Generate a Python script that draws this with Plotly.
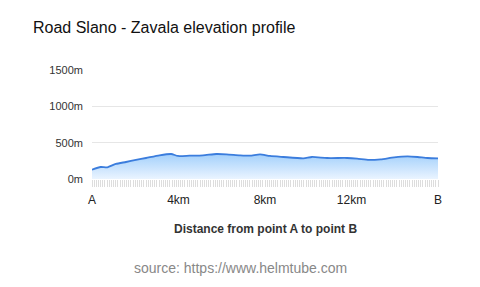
import plotly.graph_objects as go

distance_km = [0.0, 0.40, 0.71, 1.10, 1.57, 2.03, 2.50, 3.12, 3.66, 3.97, 4.51, 5.13, 5.75, 6.22,
               6.84, 7.30, 7.77, 8.23, 8.85, 9.78, 10.17, 10.87, 11.80, 12.26, 12.81, 13.35,
               13.97, 14.59, 15.06, 15.52, 16.0]
elevation_m = [128, 165, 161, 207, 234, 262, 289, 326, 344, 317, 321, 326, 344, 340,
               326, 321, 340, 317, 303, 285, 303, 289, 289, 280, 262, 271,
               298, 312, 303, 289, 285]

x_tick_vals = [0, 4, 8, 12, 16]
x_tick_text = ["A", "4km", "8km", "12km", "B"]
y_tick_vals = [0, 500, 1000, 1500]
y_tick_text = ["0m", "500m", "1000m", "1500m"]

font_family = "Liberation Sans, Arial, Helvetica, sans-serif"

fig = go.Figure()
fig.add_trace(go.Scatter(
    x=distance_km, y=elevation_m, mode="lines",
    line=dict(color="#3b7ddd", width=1.8, shape="spline", smoothing=0.6),
    fill="tozeroy",
    fillgradient=dict(type="vertical",
                      colorscale=[[0, "#eaf4ff"], [1, "#a3d0fb"]]),
    hoverinfo="skip", showlegend=False,
))

fig.update_layout(
    width=480, height=287,
    margin=dict(l=92, r=42, t=70, b=108),
    paper_bgcolor="white", plot_bgcolor="white",
    font=dict(family=font_family, color="#333333", size=11),
    title=dict(text="Road Slano - Zavala elevation profile",
               x=33/480, xref="container", xanchor="left",
               y=1-27/287, yref="container", yanchor="middle",
               font=dict(size=16, color="#111111", family=font_family)),
    xaxis=dict(range=[0, 16], tickvals=x_tick_vals, ticktext=x_tick_text,
               showgrid=False, zeroline=False, showline=False,
               ticks="", tickfont=dict(size=12, color="#222222"),
               ticklabelstandoff=12,
               minor=dict(ticks="outside", dtick=0.1, ticklen=7,
                          tickcolor="#dddddd", tickwidth=1, showgrid=False),
               fixedrange=True),
    yaxis=dict(range=[0, 1500], tickvals=y_tick_vals, ticktext=y_tick_text,
               showgrid=True, gridcolor="#e6e6e6", gridwidth=1,
               zeroline=False, showline=False, ticks="",
               ticklabelstandoff=8,
               tickfont=dict(size=11, color="#333333"), fixedrange=True),
    annotations=[
        dict(text="<b>Distance from point A to point B</b>", xref="paper", yref="paper",
             x=0.5, y=-50/109, xanchor="center", yanchor="middle", showarrow=False,
             font=dict(size=12, color="#333333", family=font_family)),
        dict(text="source: https://www.helmtube.com", xref="paper", yref="paper",
             x=(240-92)/346, y=-89/109, xanchor="center", yanchor="middle", showarrow=False,
             font=dict(size=14, color="#888888", family=font_family)),
    ],
)

fig.write_html("out.html")
